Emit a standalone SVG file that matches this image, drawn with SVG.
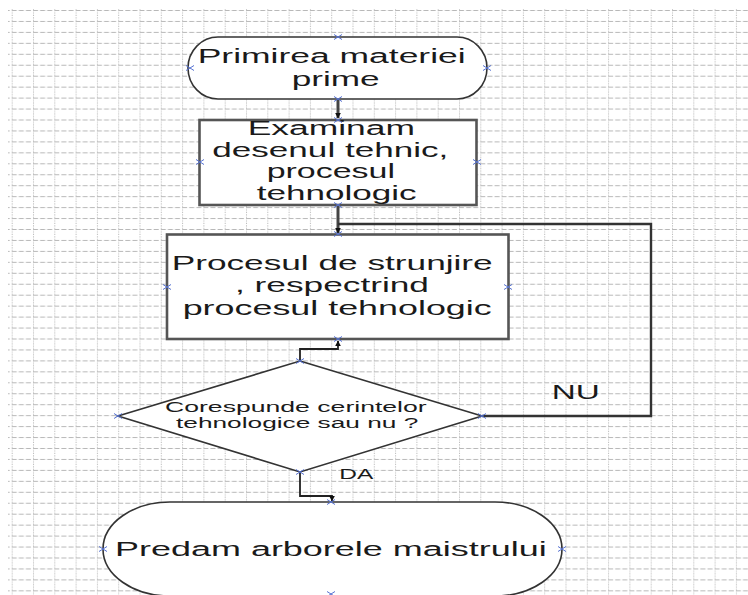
<svg xmlns="http://www.w3.org/2000/svg" xmlns:xlink="http://www.w3.org/1999/xlink" width="748" height="595" viewBox="0 0 748 595">
<style>
.shape{fill:#fff;stroke:#333;stroke-width:1.6}
.box{fill:#fff;stroke:#555;stroke-width:2.6}
.t{font-family:"Liberation Sans",Arial,sans-serif;fill:#1a1a1a}
.big{font-size:19.5px}
.mid{font-size:15.5px}
.sm{font-size:13.8px}
.conn{fill:none;stroke:#222;stroke-width:1.8}
.thick{fill:none;stroke:#444;stroke-width:3}
.loop{fill:none;stroke:#333;stroke-width:2.4}
.mk{fill:none;stroke:#5672d2;stroke-width:1}
</style>
<defs>
<pattern id="grid" patternUnits="userSpaceOnUse" x="11.7" y="10" width="21.3" height="10.95">
<line x1="0" y1="0.5" x2="21.3" y2="0.5" stroke="#b8b8b8" stroke-width="1" stroke-dasharray="5,2.1"/>
<line x1="0.5" y1="0" x2="0.5" y2="10.95" stroke="#bcbcbc" stroke-width="1" stroke-dasharray="1.2,1.2"/>
</pattern>
<path id="x" class="mk" d="M-4,-2.5L4,2.5M-4,2.5L4,-2.5"/>
<marker id="ah" viewBox="0 0 10 10" refX="9" refY="5" markerWidth="6" markerHeight="6" markerUnits="userSpaceOnUse" orient="auto">
<path d="M0,0L10,5L0,10z" fill="#111"/>
</marker>
</defs>
<rect width="748" height="595" fill="#fff"/>
<rect x="8" y="9" width="740" height="586" fill="url(#grid)"/>

<g id="connectors">
<path class="thick" d="M338,99V118" marker-end="url(#ah)"/>
<path class="thick" d="M338,205V233" marker-end="url(#ah)"/>
<path class="loop" d="M482,416H651V224H338"/>
<path class="conn" d="M300,361V349H338V341" marker-end="url(#ah)"/>
<path class="conn" d="M300,472V496H332V501" marker-end="url(#ah)"/>
<text class="t big" x="551.7" y="399.3" textLength="48" lengthAdjust="spacingAndGlyphs">NU</text>
<text class="t sm" x="339.3" y="479.3" textLength="34" lengthAdjust="spacingAndGlyphs">DA</text>
</g>

<g id="n1">
<rect class="shape" x="188" y="37" width="299" height="62" rx="30" ry="31"/>
<text class="t big" x="197.7" y="63" textLength="268" lengthAdjust="spacingAndGlyphs">Primirea materiei</text>
<text class="t big" x="291.7" y="86" textLength="88" lengthAdjust="spacingAndGlyphs">prime</text>
<use xlink:href="#x" x="338" y="37"/><use xlink:href="#x" x="190" y="68"/><use xlink:href="#x" x="487" y="68"/><use xlink:href="#x" x="338" y="99"/>
</g>

<g id="n2">
<rect class="box" x="199.5" y="120" width="277" height="85"/>
<text class="t big" x="247.7" y="135" textLength="167.3" lengthAdjust="spacingAndGlyphs">Examinam</text>
<text class="t big" x="212.3" y="156.7" textLength="236" lengthAdjust="spacingAndGlyphs">desenul tehnic,</text>
<text class="t big" x="266.7" y="178.3" textLength="128.3" lengthAdjust="spacingAndGlyphs">procesul</text>
<text class="t big" x="256.7" y="199.5" textLength="160" lengthAdjust="spacingAndGlyphs">tehnologic</text>
<use xlink:href="#x" x="338" y="120"/><use xlink:href="#x" x="200" y="162"/><use xlink:href="#x" x="477" y="162"/><use xlink:href="#x" x="338" y="205"/>
</g>

<g id="n3">
<rect class="box" x="167" y="234.5" width="341.5" height="104.5"/>
<text class="t big" x="171.7" y="270" textLength="321" lengthAdjust="spacingAndGlyphs">Procesul de strunjire</text>
<text class="t big" x="235" y="292" textLength="194" lengthAdjust="spacingAndGlyphs">, respectrind</text>
<text class="t big" x="182.7" y="315" textLength="309" lengthAdjust="spacingAndGlyphs">procesul tehnologic</text>
<use xlink:href="#x" x="338" y="234"/><use xlink:href="#x" x="167" y="287"/><use xlink:href="#x" x="508" y="287"/><use xlink:href="#x" x="338" y="339"/>
</g>

<g id="n4">
<polygon class="shape" points="300,361 482,416 300,472 118,416"/>
<text class="t mid" x="165" y="411.5" textLength="261.7" lengthAdjust="spacingAndGlyphs">Corespunde cerintelor</text>
<text class="t mid" x="176" y="427.8" textLength="242.3" lengthAdjust="spacingAndGlyphs">tehnologice sau nu ?</text>
<use xlink:href="#x" x="300" y="361"/><use xlink:href="#x" x="118" y="416"/><use xlink:href="#x" x="482" y="416"/><use xlink:href="#x" x="300" y="472"/>
</g>

<g id="n5">
<rect class="shape" x="103" y="502" width="459" height="94" rx="67" ry="47"/>
<text class="t big" x="115" y="556" textLength="431.7" lengthAdjust="spacingAndGlyphs">Predam arborele maistrului</text>
<use xlink:href="#x" x="331" y="502"/><use xlink:href="#x" x="103" y="549"/><use xlink:href="#x" x="562" y="549"/><use xlink:href="#x" x="331" y="594"/>
</g>
</svg>
